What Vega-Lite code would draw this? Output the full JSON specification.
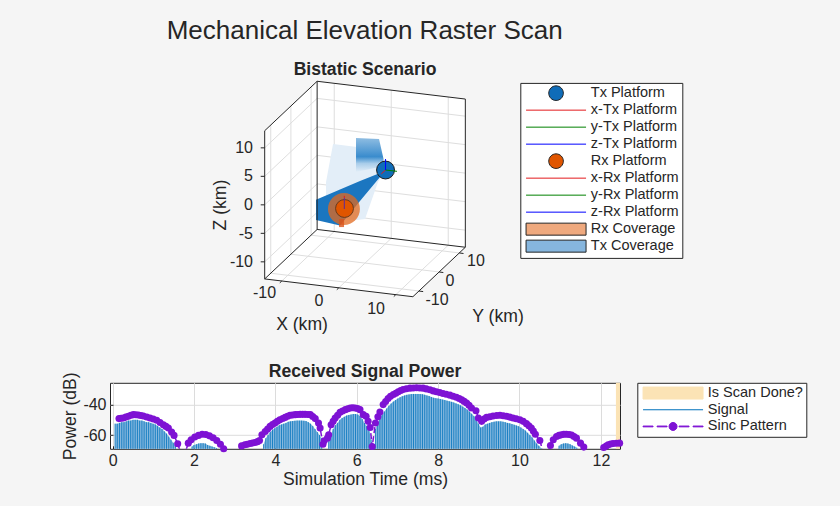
{
"$schema":"https://vega.github.io/schema/vega-lite/v6.json",
"background":"#f5f5f5",
"padding":{"left":61,"top":18,"right":0,"bottom":18},
"title":{"text":"Mechanical Elevation Raster Scan","font":"Liberation Sans","fontSize":26,"fontWeight":"normal","color":"#262626","anchor":"middle","dx":-86,"offset":17},
"config":{"font":"Liberation Sans","view":{"stroke":null},"axis":{"labelFont":"Liberation Sans","titleFont":"Liberation Sans"}},
"resolve":{"scale":{"shape":"independent","fill":"independent","stroke":"independent","color":"independent"},"legend":{"shape":"independent","fill":"independent","stroke":"independent","color":"independent"}},
"datasets":{
"sig":[
{"t":0.06,"p":-52.5,"lobe":1},{"t":0.115,"p":-52.5,"lobe":1},{"t":0.17,"p":-52,"lobe":1},{"t":0.225,"p":-51.5,"lobe":1},{"t":0.28,"p":-51.5,"lobe":1},{"t":0.335,"p":-51,"lobe":1},{"t":0.39,"p":-50.5,"lobe":1},{"t":0.445,"p":-50.5,"lobe":1},{"t":0.5,"p":-50,"lobe":1},{"t":0.555,"p":-50,"lobe":1},{"t":0.61,"p":-50,"lobe":1},{"t":0.665,"p":-50.5,"lobe":1},{"t":0.72,"p":-50.5,"lobe":1},{"t":0.775,"p":-51,"lobe":1},{"t":0.83,"p":-51.5,"lobe":1},{"t":0.885,"p":-51.5,"lobe":1},{"t":0.94,"p":-52,"lobe":1},{"t":0.995,"p":-52.5,"lobe":1},{"t":1.05,"p":-53,"lobe":1},{"t":1.105,"p":-54,"lobe":1},{"t":1.16,"p":-55,"lobe":1},{"t":1.215,"p":-56,"lobe":1},{"t":1.27,"p":-57.5,"lobe":1},{"t":1.325,"p":-59,"lobe":1},{"t":1.38,"p":-61,"lobe":1},{"t":1.435,"p":-63,"lobe":1},{"t":1.49,"p":-65,"lobe":1},{"t":1.545,"p":-67,"lobe":1},
{"t":1.95,"p":-67.5,"lobe":2},{"t":2.0,"p":-66.5,"lobe":2},{"t":2.06,"p":-66,"lobe":2},{"t":2.115,"p":-65.5,"lobe":2},{"t":2.17,"p":-65.3,"lobe":2},{"t":2.225,"p":-65.3,"lobe":2},{"t":2.28,"p":-65.5,"lobe":2},{"t":2.335,"p":-66.5,"lobe":2},{"t":2.39,"p":-67,"lobe":2},{"t":2.445,"p":-67.5,"lobe":2},{"t":2.5,"p":-68,"lobe":2},{"t":2.555,"p":-68.5,"lobe":2},
{"t":3.71,"p":-66,"lobe":3},{"t":3.765,"p":-62,"lobe":3},{"t":3.82,"p":-60,"lobe":3},{"t":3.875,"p":-58,"lobe":3},{"t":3.93,"p":-56.5,"lobe":3},{"t":3.985,"p":-55.5,"lobe":3},{"t":4.04,"p":-54.5,"lobe":3},{"t":4.095,"p":-53.5,"lobe":3},{"t":4.15,"p":-53,"lobe":3},{"t":4.205,"p":-52.5,"lobe":3},{"t":4.26,"p":-52,"lobe":3},{"t":4.315,"p":-51.3,"lobe":3},{"t":4.37,"p":-51,"lobe":3},{"t":4.425,"p":-50.8,"lobe":3},{"t":4.48,"p":-50.6,"lobe":3},{"t":4.535,"p":-50.5,"lobe":3},{"t":4.59,"p":-50.5,"lobe":3},{"t":4.645,"p":-50.5,"lobe":3},{"t":4.7,"p":-50.6,"lobe":3},{"t":4.755,"p":-50.8,"lobe":3},{"t":4.81,"p":-51.5,"lobe":3},{"t":4.865,"p":-52.5,"lobe":3},{"t":4.92,"p":-54,"lobe":3},{"t":4.975,"p":-56,"lobe":3},{"t":5.03,"p":-58,"lobe":3},{"t":5.085,"p":-60,"lobe":3},{"t":5.14,"p":-62,"lobe":3},
{"t":5.31,"p":-64,"lobe":4},{"t":5.365,"p":-60,"lobe":4},{"t":5.42,"p":-56,"lobe":4},{"t":5.475,"p":-53.5,"lobe":4},{"t":5.53,"p":-52,"lobe":4},{"t":5.585,"p":-50,"lobe":4},{"t":5.64,"p":-48.8,"lobe":4},{"t":5.695,"p":-48,"lobe":4},{"t":5.75,"p":-47.2,"lobe":4},{"t":5.805,"p":-46.8,"lobe":4},{"t":5.86,"p":-46.5,"lobe":4},{"t":5.915,"p":-46.2,"lobe":4},{"t":5.97,"p":-46.2,"lobe":4},{"t":6.025,"p":-46.5,"lobe":4},{"t":6.08,"p":-47.5,"lobe":4},{"t":6.135,"p":-49.5,"lobe":4},{"t":6.19,"p":-52,"lobe":4},{"t":6.245,"p":-54,"lobe":4},{"t":6.3,"p":-56.5,"lobe":4},{"t":6.355,"p":-63,"lobe":4},
{"t":6.46,"p":-56,"lobe":5},{"t":6.515,"p":-52,"lobe":5},{"t":6.57,"p":-48.8,"lobe":5},{"t":6.625,"p":-46.5,"lobe":5},{"t":6.68,"p":-44.5,"lobe":5},{"t":6.735,"p":-42.5,"lobe":5},{"t":6.79,"p":-40.8,"lobe":5},{"t":6.845,"p":-39.3,"lobe":5},{"t":6.9,"p":-38,"lobe":5},{"t":6.955,"p":-37,"lobe":5},{"t":7.01,"p":-36,"lobe":5},{"t":7.065,"p":-35.2,"lobe":5},{"t":7.12,"p":-34.5,"lobe":5},{"t":7.175,"p":-34,"lobe":5},{"t":7.23,"p":-33.6,"lobe":5},{"t":7.285,"p":-33.3,"lobe":5},{"t":7.34,"p":-33.1,"lobe":5},{"t":7.395,"p":-33,"lobe":5},{"t":7.45,"p":-33,"lobe":5},{"t":7.505,"p":-33,"lobe":5},{"t":7.56,"p":-33.1,"lobe":5},{"t":7.615,"p":-33.2,"lobe":5},{"t":7.67,"p":-33.5,"lobe":5},{"t":7.725,"p":-34,"lobe":5},{"t":7.78,"p":-34.4,"lobe":5},{"t":7.835,"p":-35,"lobe":5},{"t":7.89,"p":-35.5,"lobe":5},{"t":7.945,"p":-35.8,"lobe":5},{"t":8.0,"p":-36,"lobe":5},{"t":8.055,"p":-36.3,"lobe":5},{"t":8.11,"p":-36.7,"lobe":5},{"t":8.165,"p":-37,"lobe":5},{"t":8.22,"p":-37.4,"lobe":5},{"t":8.275,"p":-37.8,"lobe":5},{"t":8.33,"p":-38.2,"lobe":5},{"t":8.385,"p":-38.6,"lobe":5},{"t":8.44,"p":-39.2,"lobe":5},{"t":8.495,"p":-39.8,"lobe":5},{"t":8.55,"p":-40.5,"lobe":5},{"t":8.605,"p":-41.3,"lobe":5},{"t":8.66,"p":-42.2,"lobe":5},{"t":8.715,"p":-43.2,"lobe":5},{"t":8.77,"p":-44.6,"lobe":5},{"t":8.825,"p":-46,"lobe":5},{"t":8.88,"p":-47.5,"lobe":5},{"t":8.935,"p":-49.5,"lobe":5},{"t":8.99,"p":-52.5,"lobe":5},{"t":9.045,"p":-55,"lobe":5},{"t":9.1,"p":-54.5,"lobe":5},{"t":9.155,"p":-53,"lobe":5},{"t":9.21,"p":-52.5,"lobe":5},{"t":9.265,"p":-52,"lobe":5},{"t":9.32,"p":-51.5,"lobe":5},{"t":9.375,"p":-51.2,"lobe":5},{"t":9.43,"p":-51,"lobe":5},{"t":9.485,"p":-51,"lobe":5},{"t":9.54,"p":-51,"lobe":5},{"t":9.595,"p":-51.2,"lobe":5},{"t":9.65,"p":-51.5,"lobe":5},{"t":9.705,"p":-52,"lobe":5},{"t":9.76,"p":-52.3,"lobe":5},{"t":9.815,"p":-52.8,"lobe":5},{"t":9.87,"p":-53.2,"lobe":5},{"t":9.925,"p":-53.7,"lobe":5},{"t":9.98,"p":-54.2,"lobe":5},{"t":10.035,"p":-55,"lobe":5},{"t":10.09,"p":-56,"lobe":5},{"t":10.145,"p":-57,"lobe":5},{"t":10.2,"p":-58.5,"lobe":5},{"t":10.255,"p":-60,"lobe":5},{"t":10.31,"p":-61.5,"lobe":5},{"t":10.365,"p":-63.5,"lobe":5},{"t":10.42,"p":-65.5,"lobe":5},{"t":10.475,"p":-67,"lobe":5},{"t":10.53,"p":-68.5,"lobe":5},
{"t":10.97,"p":-67,"lobe":6},{"t":11.025,"p":-66,"lobe":6},{"t":11.08,"p":-65.5,"lobe":6},{"t":11.135,"p":-65.3,"lobe":6},{"t":11.19,"p":-65.5,"lobe":6},{"t":11.245,"p":-66,"lobe":6},{"t":11.3,"p":-66.8,"lobe":6},{"t":11.355,"p":-67.5,"lobe":6},{"t":11.41,"p":-68.3,"lobe":6}
],
"sinc":[
{"t":0.157,"p":-49.2},{"t":0.21,"p":-49},{"t":0.264,"p":-48.8},{"t":0.325,"p":-48.2},{"t":0.387,"p":-47.7},{"t":0.45,"p":-47},{"t":0.51,"p":-46.6},{"t":0.57,"p":-46.7},{"t":0.633,"p":-46.8},{"t":0.695,"p":-47.1},{"t":0.756,"p":-47.5},{"t":0.84,"p":-48.1},{"t":0.92,"p":-48.8},{"t":1.0,"p":-49.5},{"t":1.084,"p":-50.3},{"t":1.166,"p":-51.7},{"t":1.248,"p":-53.2},{"t":1.31,"p":-54.3},{"t":1.37,"p":-55.4},{"t":1.45,"p":-58},{"t":1.51,"p":-60.2},{"t":1.6,"p":-65.7},{"t":1.73,"p":-76},
{"t":1.86,"p":-65.3},{"t":1.93,"p":-63.1},{"t":2.02,"p":-61.3},{"t":2.11,"p":-60.2},{"t":2.2,"p":-59.4},{"t":2.29,"p":-59.6},{"t":2.38,"p":-60.5},{"t":2.47,"p":-61.8},{"t":2.56,"p":-63.5},{"t":2.65,"p":-66},{"t":2.73,"p":-69},{"t":2.95,"p":-76},
{"t":3.17,"p":-67.1},{"t":3.25,"p":-66.4},{"t":3.31,"p":-66},{"t":3.38,"p":-65.5},{"t":3.44,"p":-65.2},{"t":3.5,"p":-64.9},{"t":3.56,"p":-64.3},{"t":3.61,"p":-63.5},{"t":3.67,"p":-59.8},{"t":3.75,"p":-57.6},{"t":3.81,"p":-56},{"t":3.87,"p":-54.3},{"t":3.93,"p":-53.1},{"t":3.99,"p":-52.1},{"t":4.05,"p":-51},{"t":4.11,"p":-49.9},{"t":4.18,"p":-49.1},{"t":4.24,"p":-48.4},{"t":4.3,"p":-47.7},{"t":4.36,"p":-47},{"t":4.42,"p":-46.8},{"t":4.49,"p":-46.6},{"t":4.55,"p":-46.5},{"t":4.61,"p":-46.4},{"t":4.67,"p":-46.4},{"t":4.73,"p":-46.4},{"t":4.8,"p":-46.5},{"t":4.86,"p":-46.6},{"t":4.92,"p":-47.8},{"t":4.98,"p":-49.2},{"t":5.06,"p":-52.1},{"t":5.1,"p":-55.4},{"t":5.17,"p":-66},{"t":5.2,"p":-63.8},{"t":5.28,"p":-62},{"t":5.31,"p":-59.8},{"t":5.37,"p":-53.2},{"t":5.42,"p":-51},{"t":5.47,"p":-48.8},{"t":5.53,"p":-47},{"t":5.59,"p":-45.1},{"t":5.65,"p":-44.2},{"t":5.72,"p":-43.3},{"t":5.78,"p":-42.7},{"t":5.84,"p":-42.2},{"t":5.9,"p":-42.1},{"t":5.96,"p":-42.2},{"t":6.02,"p":-42.6},{"t":6.08,"p":-43.3},{"t":6.16,"p":-46.6},{"t":6.23,"p":-47.7},{"t":6.28,"p":-51},{"t":6.33,"p":-55},{"t":6.38,"p":-67.5},{"t":6.46,"p":-52.1},{"t":6.52,"p":-48},{"t":6.57,"p":-44.8},{"t":6.65,"p":-40},{"t":6.71,"p":-38},{"t":6.77,"p":-36},{"t":6.83,"p":-34.6},{"t":6.9,"p":-33.4},{"t":6.96,"p":-32.5},{"t":7.02,"p":-31.6},{"t":7.08,"p":-30.8},{"t":7.14,"p":-30.1},{"t":7.22,"p":-29.6},{"t":7.31,"p":-29.2},{"t":7.39,"p":-29.1},{"t":7.47,"p":-29},{"t":7.55,"p":-29.1},{"t":7.63,"p":-29.2},{"t":7.71,"p":-29.7},{"t":7.8,"p":-30.3},{"t":7.88,"p":-31},{"t":7.96,"p":-31.6},{"t":8.04,"p":-32.1},{"t":8.12,"p":-32.7},{"t":8.2,"p":-33.2},{"t":8.29,"p":-33.8},{"t":8.37,"p":-34.5},{"t":8.45,"p":-35.2},{"t":8.52,"p":-36},{"t":8.58,"p":-36.9},{"t":8.64,"p":-37.9},{"t":8.7,"p":-38.9},{"t":8.76,"p":-40.5},{"t":8.82,"p":-42.2},{"t":8.93,"p":-44},{"t":8.99,"p":-48.8},{"t":9.07,"p":-51},{"t":9.13,"p":-49.5},{"t":9.19,"p":-48.4},{"t":9.27,"p":-48},{"t":9.35,"p":-47.5},{"t":9.44,"p":-47.2},{"t":9.52,"p":-47},{"t":9.6,"p":-47.3},{"t":9.68,"p":-47.7},{"t":9.76,"p":-48.2},{"t":9.84,"p":-48.8},{"t":9.92,"p":-49.3},{"t":10.01,"p":-49.9},{"t":10.09,"p":-51},{"t":10.17,"p":-52.5},{"t":10.23,"p":-53.9},{"t":10.29,"p":-55.4},{"t":10.34,"p":-57.3},{"t":10.39,"p":-59.4},{"t":10.5,"p":-63.5},{"t":10.63,"p":-76},
{"t":10.76,"p":-66.8},{"t":10.83,"p":-63.1},{"t":10.91,"p":-60.9},{"t":10.97,"p":-60.2},{"t":11.03,"p":-59.8},{"t":11.09,"p":-59.5},{"t":11.15,"p":-59.4},{"t":11.22,"p":-59.6},{"t":11.28,"p":-60},{"t":11.34,"p":-60.9},{"t":11.4,"p":-62},{"t":11.5,"p":-65.3},{"t":11.58,"p":-67.9},{"t":11.82,"p":-76},
{"t":12.07,"p":-68.2},{"t":12.13,"p":-67.2},{"t":12.18,"p":-66.4},{"t":12.24,"p":-65.9},{"t":12.3,"p":-65.5},{"t":12.38,"p":-65.4},{"t":12.46,"p":-65.3}
],
"grid3d":[
{"u":-5.4,"v":-7.46,"u2":-5.4,"v2":18.54},{"u":4.6,"v":-8.66,"u2":4.6,"v2":17.34},{"u":14.6,"v":-9.86,"u2":14.6,"v2":16.14},
{"u":-8.4,"v":-4.1,"u2":17.6,"v2":-7.22},{"u":-8.4,"v":0.9,"u2":17.6,"v2":-2.22},{"u":-8.4,"v":5.9,"u2":17.6,"v2":2.78},{"u":-8.4,"v":10.9,"u2":17.6,"v2":7.78},{"u":-8.4,"v":15.9,"u2":17.6,"v2":12.78},
{"u":-16.54,"v":-14.78,"u2":-16.54,"v2":11.22},{"u":-13,"v":-11.44,"u2":-13,"v2":14.56},{"u":-9.46,"v":-8.1,"u2":-9.46,"v2":17.9},
{"u":-17.6,"v":-12.78,"u2":-8.4,"v2":-4.1},{"u":-17.6,"v":-7.78,"u2":-8.4,"v2":0.9},{"u":-17.6,"v":-2.78,"u2":-8.4,"v2":5.9},{"u":-17.6,"v":2.22,"u2":-8.4,"v2":10.9},{"u":-17.6,"v":7.22,"u2":-8.4,"v2":15.9},
{"u":-14.6,"v":-16.14,"u2":-5.4,"v2":-7.46},{"u":-4.6,"v":-17.34,"u2":4.6,"v2":-8.66},{"u":5.4,"v":-18.54,"u2":14.6,"v2":-9.86},
{"u":-16.54,"v":-14.78,"u2":9.46,"v2":-17.9},{"u":-13,"v":-11.44,"u2":13,"v2":-14.56},{"u":-9.46,"v":-8.1,"u2":16.54,"v2":-11.22}
],
"edges3d":[
{"u":-17.6,"v":-15.78,"u2":-17.6,"v2":10.22},{"u":-17.6,"v":10.22,"u2":-8.4,"v2":18.9},{"u":-8.4,"v":18.9,"u2":17.6,"v2":15.78},{"u":17.6,"v":15.78,"u2":17.6,"v2":-10.22},{"u":17.6,"v":-10.22,"u2":8.4,"v2":-18.9},{"u":8.4,"v":-18.9,"u2":-17.6,"v2":-15.78},{"u":-17.6,"v":-15.78,"u2":-8.4,"v2":-7.1},{"u":-8.4,"v":-7.1,"u2":-8.4,"v2":18.9},{"u":-8.4,"v":-7.1,"u2":17.6,"v2":-10.22},
{"u":-17.6,"v":7.22,"u2":-18.3,"v2":7.22},{"u":-17.6,"v":2.22,"u2":-18.3,"v2":2.22},{"u":-17.6,"v":-2.78,"u2":-18.3,"v2":-2.78},{"u":-17.6,"v":-7.78,"u2":-18.3,"v2":-7.78},{"u":-17.6,"v":-12.78,"u2":-18.3,"v2":-12.78},
{"u":-14.6,"v":-16.14,"u2":-14.95,"v2":-16.47},{"u":-4.6,"v":-17.34,"u2":-4.95,"v2":-17.67},{"u":5.4,"v":-18.54,"u2":5.05,"v2":-18.87},
{"u":9.46,"v":-17.9,"u2":10.2,"v2":-18},{"u":13,"v":-14.56,"u2":13.74,"v2":-14.66},{"u":16.54,"v":-11.22,"u2":17.28,"v2":-11.32}
],
"labels3d":[
{"text":"-10","u":-17.63,"v":-18.25},{"text":"0","u":-8.07,"v":-19.65},{"text":"10","u":1.93,"v":-21.05},
{"text":"10","u":19.47,"v":-12.63},{"text":"0","u":14.91,"v":-16.14},{"text":"-10","u":12.63,"v":-19.47}
],
"zlabels":[
{"text":"10","u":-19.65,"v":7.19},{"text":"5","u":-19.65,"v":2.28},{"text":"0","u":-19.65,"v":-2.81},{"text":"-5","u":-19.65,"v":-7.81},{"text":"-10","u":-19.65,"v":-12.81}
]
},
"vconcat":[
{
"width":730,"height":260,
"title":{"text":"Bistatic Scenario","font":"Liberation Sans","fontSize":17.6,"fontWeight":"bold","color":"#262626","anchor":"middle","dx":-110,"offset":0},
"encoding":{
"x":{"field":"u","type":"quantitative","axis":null,"scale":{"domain":[-44.74,83.33],"nice":false,"zero":false}},
"y":{"field":"v","type":"quantitative","axis":null,"scale":{"domain":[-26.32,19.3],"nice":false,"zero":false}}
},
"layer":[
{"data":{"values":[{"u":-17.6,"v":10.22,"v2":-15.78},{"u":-8.4,"v":18.9,"v2":-16.88},{"u":8.4,"v":16.88,"v2":-18.9},{"u":17.6,"v":15.78,"v2":-10.22}]},
 "mark":{"type":"area","color":"white","orient":"vertical"},"encoding":{"y2":{"field":"v2"}}},
{"data":{"name":"grid3d"},"mark":{"type":"rule","color":"#dedede","strokeWidth":1},"encoding":{"x2":{"field":"u2"},"y2":{"field":"v2"}}},
{"data":{"values":[{"u":-6.84,"v":1.23,"v2":-4.56},{"u":-5.61,"v":7.89,"v2":-5.26},{"u":-1.4,"v":7.37,"v2":-5.44},{"u":0,"v":6.14,"v2":-5.26},{"u":2.28,"v":4.39,"v2":1.23},{"u":3.51,"v":3.33,"v2":3.33}]},
 "mark":{"type":"area","color":"#e3eef8","orient":"vertical"},"encoding":{"y2":{"field":"v2"}}},
{"data":{"values":[{"u":-1.58,"v":8.95,"v2":2.98},{"u":2.46,"v":8.77,"v2":3.86},{"u":3.25,"v":5.26,"v2":3.86}]},
 "mark":{"type":"area","orient":"vertical","color":{"gradient":"linear","x1":0,"y1":0,"x2":0,"y2":1,"stops":[{"offset":0,"color":"#8fbde2"},{"offset":0.55,"color":"#3a8ccd"},{"offset":0.75,"color":"#a9cdea"},{"offset":1,"color":"#e3eef8"}]}},"encoding":{"y2":{"field":"v2"}}},
{"data":{"values":[{"u":-8.6,"v":-1.88,"v2":-5.44},{"u":-4.39,"v":-0.09,"v2":-6.4},{"u":-0.88,"v":1.4,"v2":-2.11},{"u":3.51,"v":3.16,"v2":3.16}]},
 "mark":{"type":"area","color":"#1b76c0","orient":"vertical"},"encoding":{"y2":{"field":"v2"}}},
{"data":{"values":[{"u":-3.7,"v":-3.51}]},"mark":{"type":"point","filled":true,"color":"#e2691f","opacity":0.75,"size":1018}},
{"data":{"values":[{"u":-4.12,"v":-5.26,"v2":-6.68,"u2":-4.12}]},"mark":{"type":"rule","color":"#d95319","strokeWidth":5,"opacity":0.8},"encoding":{"x2":{"field":"u2"},"y2":{"field":"v2"}}},
{"data":{"values":[{"u":3.6,"v":3.33},{"u":-3.6,"v":-3.42}]},"transform":[{"filter":"datum.u>0"}],"mark":{"type":"point","filled":true,"color":"#0f6cb8","stroke":"#1a1a1a","strokeWidth":1,"opacity":1,"size":320}},
{"data":{"values":[{"u":3.6,"v":3.33},{"u":-3.6,"v":-3.42}]},"transform":[{"filter":"datum.u<0"}],"mark":{"type":"point","filled":true,"color":"#e05500","stroke":"#6b3a1c","strokeWidth":1,"opacity":1,"size":320}},
{"data":{"values":[
{"series":"x-Tx Platform","u":3.6,"v":3.33,"u2":2.85,"v2":2.65},{"series":"y-Tx Platform","u":3.6,"v":3.33,"u2":5.6,"v2":3.1},{"series":"z-Tx Platform","u":3.6,"v":3.33,"u2":3.6,"v2":5.26},
{"series":"x-Rx Platform","u":-3.63,"v":-1.58,"u2":-3.63,"v2":-1.2},{"series":"z-Rx Platform","u":-3.63,"v":-3.51,"u2":-3.63,"v2":-1.58}]},
 "mark":{"type":"rule","strokeWidth":1},
 "encoding":{"x2":{"field":"u2"},"y2":{"field":"v2"},"color":{"field":"series","type":"nominal","legend":null,"scale":{"domain":["x-Tx Platform","y-Tx Platform","z-Tx Platform","x-Rx Platform","z-Rx Platform"],"range":["#e41a1c","#008000","#0000ff","#e41a1c","#5b2a9e"]}}}},
{"data":{"name":"edges3d"},"mark":{"type":"rule","color":"#262626","strokeWidth":1},"encoding":{"x2":{"field":"u2"},"y2":{"field":"v2"}}},
{"data":{"name":"labels3d"},"mark":{"type":"text","font":"Liberation Sans","fontSize":16,"color":"#262626","align":"center","baseline":"middle"},"encoding":{"text":{"field":"text"}}},
{"data":{"name":"zlabels"},"mark":{"type":"text","font":"Liberation Sans","fontSize":16,"color":"#262626","align":"right","baseline":"middle"},"encoding":{"text":{"field":"text"}}},
{"data":{"values":[{"text":"X (km)","u":-11.05,"v":-23.86},{"text":"Y (km)","u":23.33,"v":-22.46}]},"mark":{"type":"text","font":"Liberation Sans","fontSize":17.6,"color":"#262626","align":"center","baseline":"middle"},"encoding":{"text":{"field":"text"}}},
{"data":{"values":[{"text":"Z (km)","u":-25.26,"v":-2.81}]},"mark":{"type":"text","font":"Liberation Sans","fontSize":17.6,"color":"#262626","align":"center","baseline":"middle","angle":270},"encoding":{"text":{"field":"text"}}},
{"data":{"values":[{"series":"Tx Platform","u":0,"v":0},{"series":"x-Tx Platform","u":0,"v":0},{"series":"y-Tx Platform","u":0,"v":0},{"series":"z-Tx Platform","u":0,"v":0},{"series":"Rx Platform","u":0,"v":0},{"series":"x-Rx Platform","u":0,"v":0},{"series":"y-Rx Platform","u":0,"v":0},{"series":"z-Rx Platform","u":0,"v":0},{"series":"Rx Coverage","u":0,"v":0},{"series":"Tx Coverage","u":0,"v":0}]},
 "mark":{"type":"point","size":4,"opacity":0,"filled":true},
 "encoding":{
 "shape":{"field":"series","type":"nominal","scale":{"domain":["Tx Platform","x-Tx Platform","y-Tx Platform","z-Tx Platform","Rx Platform","x-Rx Platform","y-Rx Platform","z-Rx Platform","Rx Coverage","Tx Coverage"],"range":["M32.8,0C32.8,4 29.6,7.3 25.5,7.3C21.4,7.3 18.2,4 18.2,0C18.2,-4 21.4,-7.3 25.5,-7.3C29.6,-7.3 32.8,-4 32.8,0Z","M-4.5,0H55.5","M-4.5,0H55.5","M-4.5,0H55.5","M32.8,0C32.8,4 29.6,7.3 25.5,7.3C21.4,7.3 18.2,4 18.2,0C18.2,-4 21.4,-7.3 25.5,-7.3C29.6,-7.3 32.8,-4 32.8,0Z","M-4.5,0H55.5","M-4.5,0H55.5","M-4.5,0H55.5","M-4.5,-6H55.5V6H-4.5Z","M-4.5,-6H55.5V6H-4.5Z"]},
  "legend":{"orient":"none","legendX":410.3,"legendY":3.9,"title":null,"symbolSize":4,"symbolStrokeWidth":1,"symbolOpacity":1,"labelOffset":53,"labelFont":"Liberation Sans","labelFontSize":14.5,"labelColor":"#262626","fillColor":"white","strokeColor":"#262626","padding":3,"rowPadding":-3.3,"gridAlign":"all","encoding":{"symbols":{"fillOpacity":{"value":1},"strokeOpacity":{"value":1},"fill":{"value":{"signal":"scale('concat_0_fill', datum.value)"}},"stroke":{"value":{"signal":"scale('concat_0_stroke', datum.value)"}}}}}},
 "fill":{"field":"series","type":"nominal","scale":{"domain":["Tx Platform","x-Tx Platform","y-Tx Platform","z-Tx Platform","Rx Platform","x-Rx Platform","y-Rx Platform","z-Rx Platform","Rx Coverage","Tx Coverage"],"range":["#0f6cb8","transparent","transparent","transparent","#e05500","transparent","transparent","transparent","#efa97e","#86b6de"]}},
 "stroke":{"field":"series","type":"nominal","scale":{"domain":["Tx Platform","x-Tx Platform","y-Tx Platform","z-Tx Platform","Rx Platform","x-Rx Platform","y-Rx Platform","z-Rx Platform","Rx Coverage","Tx Coverage"],"range":["#262626","#e41a1c","#008000","#0000ff","#262626","#e41a1c","#008000","#0000ff","#262626","#262626"]}}
 }}
]
},
{
"width":510,"height":66,
"view":{"stroke":"#262626","strokeWidth":1,"fill":"white"},
"title":{"text":"Received Signal Power","font":"Liberation Sans","fontSize":17.6,"fontWeight":"bold","color":"#262626","anchor":"middle","offset":-9},
"encoding":{
"x":{"field":"t","type":"quantitative","title":"Simulation Time (ms)","scale":{"domain":[-0.064,12.47],"nice":false,"zero":false},
 "axis":{"values":[0,2,4,6,8,10,12],"labelExpr":"''+datum.value","labelFontSize":16,"titleFontSize":17.6,"labelColor":"#262626","titleColor":"#262626","titleFontWeight":"normal","domain":false,"tickColor":"#262626","tickSize":-3,"labelPadding":7,"titlePadding":2,"grid":true,"gridColor":"#dcdcdc","labelFlush":false}},
"y":{"field":"p","type":"quantitative","title":"Power (dB)","scale":{"domain":[-69,-25.7],"nice":false,"zero":false},
 "axis":{"values":[-40,-60],"labelExpr":"''+datum.value","labelFontSize":16,"titleFontSize":17.6,"labelColor":"#262626","titleColor":"#262626","titleFontWeight":"normal","domain":false,"tickColor":"#262626","tickSize":-3,"labelPadding":7,"titlePadding":3,"grid":true,"gridColor":"#dcdcdc"}}
},
"layer":[
{"data":{"values":[{"t":12.37,"t2":12.47}]},"mark":{"type":"rect","color":"#fbe3b5"},"encoding":{"x2":{"field":"t2"},"y":{"value":0},"y2":{"value":66}}},
{"data":{"name":"sig"},"mark":{"type":"area","color":"#86b8de","orient":"vertical"},"encoding":{"detail":{"field":"lobe"},"y2":{"datum":-69}}},
{"data":{"name":"sig"},"mark":{"type":"rule","color":"#0072bd","strokeWidth":0.8},"encoding":{"y2":{"datum":-69}}},
{"data":{"name":"sinc"},"mark":{"type":"line","color":"#7e12d4","strokeWidth":1.5,"strokeDash":[6,3],"clip":true}},
{"data":{"name":"sinc"},"transform":[{"filter":"datum.p>=-69.5"}],"mark":{"type":"point","filled":true,"color":"#7e12d4","opacity":1,"size":50}},
{"data":{"values":[{"t":0},{"t":2},{"t":4},{"t":6},{"t":8},{"t":10},{"t":12}]},"mark":{"type":"rule","color":"#262626","strokeWidth":1},"encoding":{"y":{"datum":-25.7},"y2":{"datum":-27.7}}},
{"data":{"values":[{"series":"Is Scan Done?","t":6,"p":-50},{"series":"Signal","t":6,"p":-50},{"series":"Sinc Pattern","t":6,"p":-50}]},
 "mark":{"type":"point","size":4,"opacity":0,"filled":true},
 "encoding":{
 "shape":{"field":"series","type":"nominal","scale":{"domain":["Is Scan Done?","Signal","Sinc Pattern"],"range":["M-4.5,-6H55.5V6H-4.5Z","M-4.5,0H55.5","M-4.5,-0.4H5.5V0.4H-4.5ZM9.5,-0.4H19.5V0.4H9.5ZM31.5,-0.4H41.5V0.4H31.5ZM45.5,-0.4H55.5V0.4H45.5ZM29.5,0C29.5,2.2 27.7,4 25.5,4C23.3,4 21.5,2.2 21.5,0C21.5,-2.2 23.3,-4 25.5,-4C27.7,-4 29.5,-2.2 29.5,0Z"]},
  "legend":{"orient":"none","legendX":527.3,"legendY":0,"title":null,"symbolSize":4,"symbolStrokeWidth":1,"symbolOpacity":1,"labelOffset":53,"labelFont":"Liberation Sans","labelFontSize":14.5,"labelColor":"#262626","fillColor":"white","strokeColor":"#262626","padding":3,"rowPadding":-0.3,"gridAlign":"all","encoding":{"symbols":{"fillOpacity":{"value":1},"strokeOpacity":{"value":1},"fill":{"value":{"signal":"scale('concat_1_fill', datum.value)"}},"stroke":{"value":{"signal":"scale('concat_1_stroke', datum.value)"}}}}}},
 "fill":{"field":"series","type":"nominal","scale":{"domain":["Is Scan Done?","Signal","Sinc Pattern"],"range":["#fbe3b5","transparent","#7e12d4"]}},
 "stroke":{"field":"series","type":"nominal","scale":{"domain":["Is Scan Done?","Signal","Sinc Pattern"],"range":["#fbe3b5","#0072bd","#7e12d4"]}}
 }}
]
}
],
"spacing":22.8
}
